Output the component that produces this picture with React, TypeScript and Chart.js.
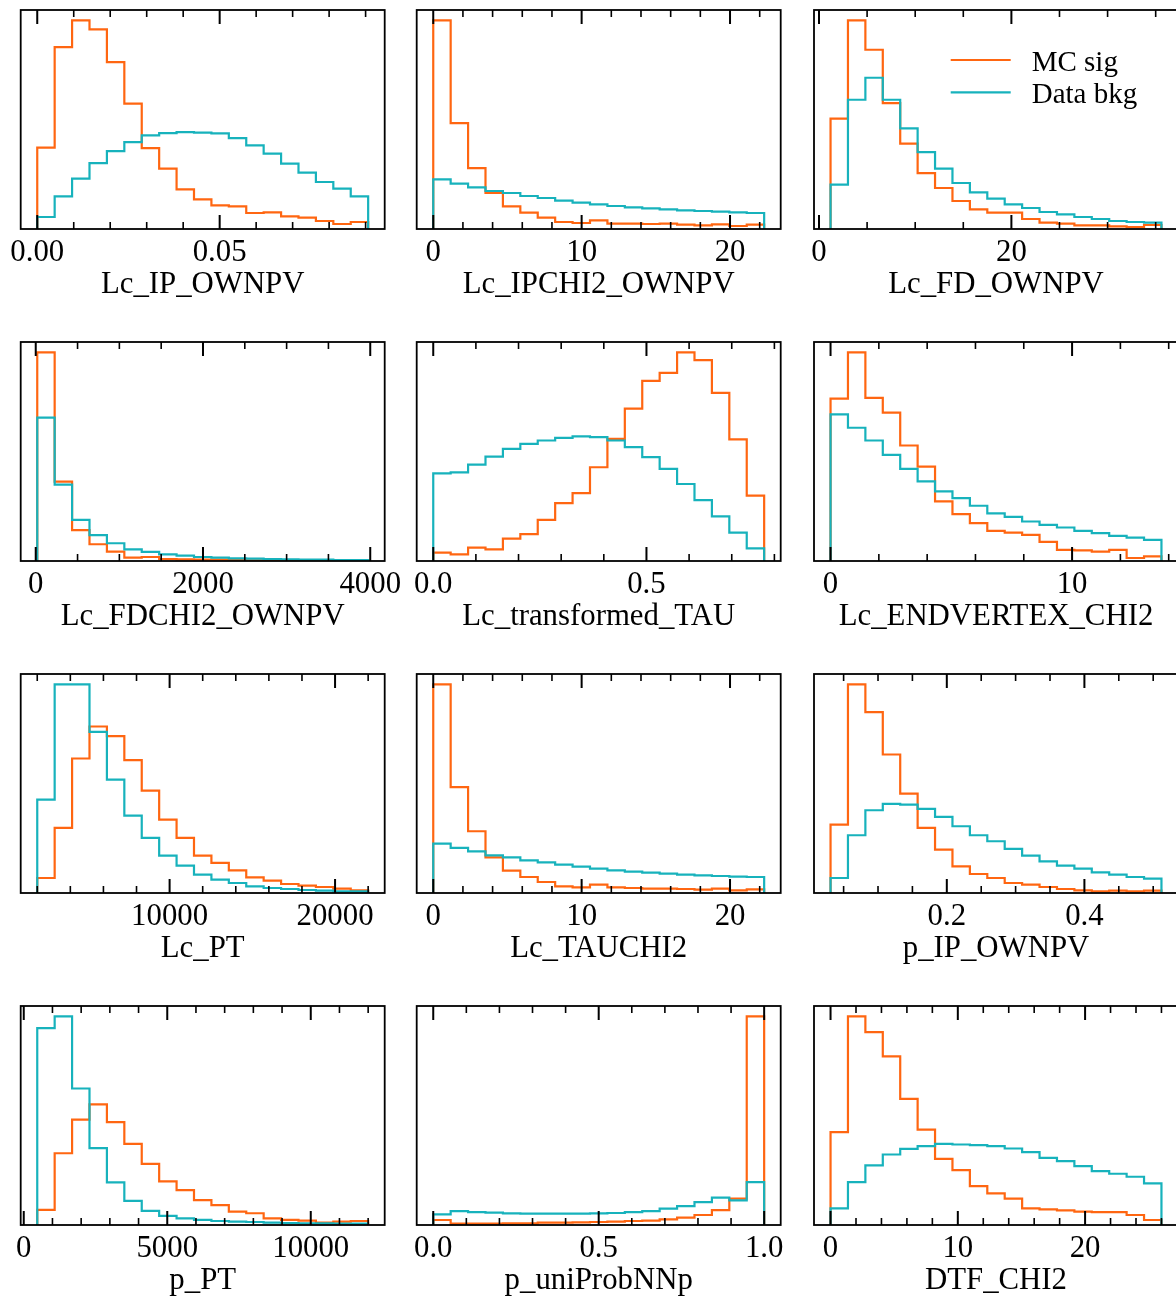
import React, { useEffect, useRef } from 'react';
import { Chart, registerables } from 'chart.js';

Chart.register(...registerables);

const SIG_COLOR = '#ff6611';
const BKG_COLOR = '#17b2bc';
const SERIF = '"Liberation Serif", "Times New Roman", Times, serif';
const SIG_LABEL = 'MC sig';
const BKG_LABEL = 'Data bkg';

// Bin contents (19 equal-width bins per variable), arbitrary normalisation.
const LC_IP_SIG = [244, 546, 626, 599, 501, 376, 243, 181, 119, 89, 71, 68, 48, 50, 38, 34, 24, 15, 21];
const LC_IP_BKG = [36, 98, 151, 198, 234, 261, 281, 288, 291, 289, 287, 273, 251, 226, 196, 169, 141, 121, 98];

const LC_IPCHI2_SIG = [626, 318, 183, 108, 68, 49, 34, 21, 18, 26, 16, 16, 15, 16, 13, 11, 14, 9, 13];
const LC_IPCHI2_BKG = [149, 136, 125, 114, 108, 99, 93, 85, 79, 74, 69, 65, 62, 59, 56, 54, 52, 50, 48];

const LC_FD_SIG = [331, 626, 538, 378, 256, 168, 123, 84, 59, 49, 49, 30, 19, 16, 11, 11, 8, 6, 12];
const LC_FD_BKG = [133, 388, 454, 388, 302, 231, 181, 138, 110, 91, 74, 63, 51, 44, 36, 30, 24, 21, 19];

const LC_FDCHI2_SIG = [623, 237, 92, 50, 28, 10, 12, 6, 5, 4, 4, 3, 2, 2, 2, 1, 1, 1, 1];
const LC_FDCHI2_BKG = [428, 228, 123, 77, 53, 35, 27, 20, 16, 12, 10, 8, 7, 6, 5, 4, 4, 3, 3];

const LC_TAU_SIG = [25, 20, 40, 35, 67, 80, 123, 173, 203, 280, 365, 455, 538, 562, 623, 600, 502, 363, 195];
const LC_TAU_BKG = [262, 265, 288, 312, 335, 350, 360, 368, 372, 370, 360, 340, 310, 275, 230, 182, 133, 85, 38];

const LC_VTX_SIG = [485, 623, 487, 443, 345, 282, 178, 140, 113, 90, 85, 78, 57, 33, 32, 28, 33, 9, 14];
const LC_VTX_BKG = [438, 398, 360, 317, 275, 238, 208, 188, 165, 142, 132, 118, 108, 100, 90, 83, 75, 70, 63];

const LC_PT_SIG = [45, 195, 403, 499, 470, 398, 307, 220, 165, 112, 90, 68, 47, 37, 27, 22, 18, 13, 8];
const LC_PT_BKG = [280, 625, 625, 483, 340, 232, 165, 112, 82, 55, 40, 30, 20, 15, 12, 9, 7, 5, 5];

const LC_TAUCHI2_SIG = [625, 317, 185, 107, 67, 48, 33, 20, 17, 25, 17, 15, 13, 13, 12, 10, 13, 8, 11];
const LC_TAUCHI2_BKG = [148, 135, 125, 113, 107, 98, 92, 85, 79, 73, 68, 64, 61, 58, 55, 53, 51, 49, 48];

const P_IP_SIG = [205, 625, 542, 415, 298, 195, 130, 80, 57, 45, 30, 25, 18, 12, 8, 5, 7, 5, 7];
const P_IP_BKG = [45, 173, 248, 267, 265, 252, 228, 200, 173, 155, 132, 112, 95, 82, 73, 62, 55, 48, 43];

const P_PT_SIG = [45, 214, 314, 360, 307, 242, 182, 130, 104, 74, 59, 40, 35, 20, 15, 13, 7, 10, 12];
const P_PT_BKG = [587, 622, 407, 229, 127, 72, 42, 27, 20, 15, 12, 10, 9, 7, 6, 5, 5, 4, 4];

const P_PROBNN_SIG = [15, 4, 4, 4, 5, 5, 7, 7, 8, 9, 10, 12, 13, 17, 22, 30, 45, 79, 627];
const P_PROBNN_BKG = [32, 42, 39, 37, 35, 34, 34, 34, 34, 35, 36, 39, 42, 49, 57, 69, 82, 74, 129];

const DTF_SIG = [279, 627, 580, 507, 379, 287, 199, 165, 117, 95, 79, 50, 47, 44, 40, 39, 39, 30, 15];
const DTF_BKG = [50, 129, 179, 212, 229, 237, 244, 242, 240, 237, 230, 219, 202, 192, 177, 162, 154, 145, 125];

type Spec = {
  name: string;
  lo: number;
  hi: number;
  sig: number[];
  bkg: number[];
  major: number;
  minor: number;
  decimals: number;
};

const PANELS: Spec[] = [
  { name: 'Lc_IP_OWNPV', lo: 0, hi: 0.0907, sig: LC_IP_SIG, bkg: LC_IP_BKG, major: 0.05, minor: 0.01, decimals: 2 },
  { name: 'Lc_IPCHI2_OWNPV', lo: 0, hi: 22.3, sig: LC_IPCHI2_SIG, bkg: LC_IPCHI2_BKG, major: 10, minor: 2, decimals: 0 },
  { name: 'Lc_FD_OWNPV', lo: 1.2, hi: 35.6, sig: LC_FD_SIG, bkg: LC_FD_BKG, major: 20, minor: 5, decimals: 0 },
  { name: 'Lc_FDCHI2_OWNPV', lo: 18, hi: 3975, sig: LC_FDCHI2_SIG, bkg: LC_FDCHI2_BKG, major: 2000, minor: 500, decimals: 0 },
  { name: 'Lc_transformed_TAU', lo: 0, hi: 0.776, sig: LC_TAU_SIG, bkg: LC_TAU_BKG, major: 0.5, minor: 0.1, decimals: 1 },
  { name: 'Lc_ENDVERTEX_CHI2', lo: 0, hi: 13.7, sig: LC_VTX_SIG, bkg: LC_VTX_BKG, major: 10, minor: 2, decimals: 0 },
  { name: 'Lc_PT', lo: 2000, hi: 22000, sig: LC_PT_SIG, bkg: LC_PT_BKG, major: 10000, minor: 2000, decimals: 0 },
  { name: 'Lc_TAUCHI2', lo: 0, hi: 22.3, sig: LC_TAUCHI2_SIG, bkg: LC_TAUCHI2_BKG, major: 10, minor: 2, decimals: 0 },
  { name: 'p_IP_OWNPV', lo: 0.031, hi: 0.512, sig: P_IP_SIG, bkg: P_IP_BKG, major: 0.2, minor: 0.05, decimals: 1 },
  { name: 'p_PT', lo: 470, hi: 12000, sig: P_PT_SIG, bkg: P_PT_BKG, major: 5000, minor: 1000, decimals: 0 },
  { name: 'p_uniProbNNp', lo: 0, hi: 1.0, sig: P_PROBNN_SIG, bkg: P_PROBNN_BKG, major: 0.5, minor: 0.1, decimals: 1 },
  { name: 'DTF_CHI2', lo: 0, hi: 26, sig: DTF_SIG, bkg: DTF_BKG, major: 10, minor: 2, decimals: 0 },
];

// Grid geometry of the axes boxes
const COL_LEFT = [20.7, 416.7, 814];
const ROW_TOP = [10, 342, 674, 1006];
const AX_W = 364;
const AX_H = 219;
const PAD_X = 40;
const PAD_T = 12;
const SCALE_H = 80;
const PAD_B = 6;
const AXIS_FONT = 30.8;
const LEGEND_FONT = 29;

function isMultiple(v: number, step: number) {
  const r = v / step;
  return Math.abs(r - Math.round(r)) < 1e-6;
}

const axesFrame = {
  id: 'axesFrame',
  afterDraw(chart: any, _args: any, opts: any) {
    const { ctx, chartArea: a } = chart;
    const x = chart.scales.x;
    ctx.save();
    ctx.strokeStyle = '#000';
    ctx.lineCap = 'butt';
    for (const t of x.ticks) {
      const px = x.getPixelForValue(t.value);
      if (px < a.left - 0.5 || px > a.right + 0.5) continue;
      const major = isMultiple(t.value, opts.major);
      const len = major ? 14 : 7;
      ctx.lineWidth = major ? 2 : 1.6;
      ctx.beginPath();
      ctx.moveTo(px, a.bottom);
      ctx.lineTo(px, a.bottom - len);
      ctx.moveTo(px, a.top);
      ctx.lineTo(px, a.top + len);
      ctx.stroke();
    }
    ctx.lineWidth = 1.8;
    ctx.strokeRect(a.left, a.top, a.right - a.left, a.bottom - a.top);

    if (opts.legend) {
      const sets = chart.data.datasets;
      ctx.font = `${LEGEND_FONT}px ${SERIF}`;
      ctx.textBaseline = 'alphabetic';
      ctx.textAlign = 'left';
      sets.forEach((ds: any, i: number) => {
        const y = a.top + 50 + i * 32.3;
        ctx.strokeStyle = ds.borderColor;
        ctx.lineWidth = 2.2;
        ctx.beginPath();
        ctx.moveTo(a.left + 136.7, y);
        ctx.lineTo(a.left + 196.7, y);
        ctx.stroke();
        ctx.fillStyle = '#000';
        ctx.fillText(ds.label, a.left + 217.7, y + 10.5);
      });
    }
    ctx.restore();
  },
};

function HistPanel({ spec, left, top, legend }: { spec: Spec; left: number; top: number; legend: boolean }) {
  const ref = useRef<HTMLCanvasElement>(null);
  const canvasLeft = Math.floor(left) - PAD_X;
  const canvasTop = top - PAD_T;
  const width = AX_W + 2 * PAD_X;
  const height = PAD_T + AX_H + SCALE_H + PAD_B;

  useEffect(() => {
    if (!ref.current) return;
    const n = spec.sig.length;
    const span = spec.hi - spec.lo;
    const binW = span / n;
    const edges = Array.from({ length: n + 1 }, (_, i) => spec.lo + i * binW);
    const outline = (vals: number[]) => [
      { x: edges[0], y: 0 },
      ...vals.map((v, i) => ({ x: edges[i], y: v })),
      { x: edges[n], y: 0 },
    ];
    const peak = Math.max(...spec.sig, ...spec.bkg);
    const padLeft = left - canvasLeft;
    const padRight = width - padLeft - AX_W;

    const chart = new Chart(ref.current, {
      type: 'line',
      data: {
        datasets: [
          {
            label: SIG_LABEL,
            data: outline(spec.sig),
            borderColor: SIG_COLOR,
            borderWidth: 2.2,
            stepped: 'before',
            pointRadius: 0,
            fill: false,
            tension: 0,
            borderJoinStyle: 'miter',
            order: 1,
          },
          {
            label: BKG_LABEL,
            data: outline(spec.bkg),
            borderColor: BKG_COLOR,
            borderWidth: 2.2,
            stepped: 'before',
            pointRadius: 0,
            fill: false,
            tension: 0,
            borderJoinStyle: 'miter',
            order: 0,
          },
        ],
      },
      options: {
        animation: false,
        responsive: false,
        devicePixelRatio: 1,
        events: [],
        layout: {
          autoPadding: false,
          padding: { left: padLeft, right: padRight, top: PAD_T, bottom: PAD_B },
        },
        plugins: {
          legend: { display: false },
          tooltip: { enabled: false },
          axesFrame: { major: spec.major, legend },
        } as any,
        scales: {
          x: {
            type: 'linear',
            min: spec.lo - 0.05 * span,
            max: spec.hi + 0.05 * span,
            grid: { display: false, drawTicks: false },
            border: { display: false },
            afterBuildTicks: (s: any) => {
              const ticks = [];
              const k0 = Math.ceil(s.min / spec.minor - 1e-9);
              for (let k = k0; k * spec.minor <= s.max + 1e-12; k++) ticks.push({ value: k * spec.minor });
              s.ticks = ticks;
            },
            afterFit: (s: any) => {
              s.height = SCALE_H;
              s.paddingLeft = 0;
              s.paddingRight = 0;
            },
            ticks: {
              autoSkip: false,
              maxRotation: 0,
              minRotation: 0,
              padding: 5,
              color: '#000',
              font: { family: SERIF, size: AXIS_FONT },
              callback: (v: any) => {
                const val = Number(v);
                if (!isMultiple(val, spec.major)) return '';
                const r = Math.round(val / spec.major) * spec.major;
                return (Math.abs(r) < 1e-12 ? 0 : r).toFixed(spec.decimals);
              },
            },
            title: {
              display: true,
              text: spec.name,
              color: '#000',
              font: { family: SERIF, size: AXIS_FONT },
              padding: { top: 0, bottom: 5.2 },
            },
          },
          y: {
            type: 'linear',
            display: false,
            min: 0,
            max: peak * 1.05,
          },
        },
      } as any,
      plugins: [axesFrame],
    });
    return () => chart.destroy();
  }, []);

  return (
    <canvas
      ref={ref}
      width={width}
      height={height}
      style={{ position: 'absolute', left: canvasLeft, top: canvasTop, width, height, pointerEvents: 'none' }}
    />
  );
}

export default function App() {
  return (
    <div
      style={{
        position: 'absolute',
        left: 0,
        top: 0,
        width: 1176,
        height: 1299,
        overflow: 'hidden',
        background: '#fff',
      }}
    >
      {PANELS.map((spec, i) => (
        <HistPanel
          key={spec.name}
          spec={spec}
          left={COL_LEFT[i % 3]}
          top={ROW_TOP[Math.floor(i / 3)]}
          legend={i === 2}
        />
      ))}
    </div>
  );
}
